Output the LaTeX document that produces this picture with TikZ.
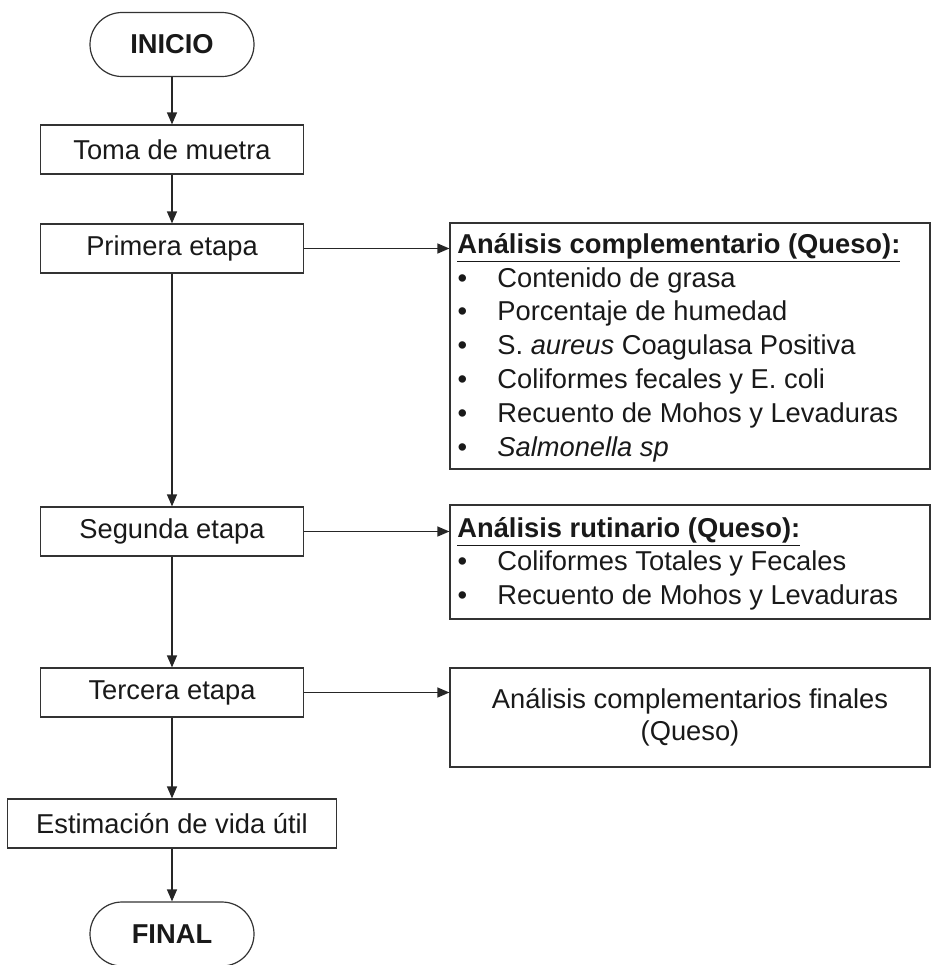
\documentclass[tikz,border=0pt]{standalone}
\usepackage{fontspec}
\setmainfont{Liberation Sans}
\usetikzlibrary{arrows.meta}
\newcommand{\fsz}{\fontsize{13.65pt}{16pt}\selectfont}
\newcommand{\itm}[1]{\makebox[10pt][c]{\textbullet}\hspace*{12.5pt}#1}
\begin{document}
\begin{tikzpicture}[x=0.5pt,y=-0.5pt,
  every node/.style={font=\fsz, text=black!90},
  stepbox/.style={draw=black!80, line width=0.6pt, rectangle, inner sep=0pt, minimum width=131.5pt, minimum height=24.5pt},
  term/.style={draw=black!80, line width=0.6pt, rectangle, rounded corners=16pt, inner sep=0pt, minimum width=82pt, minimum height=32pt, font=\fsz\bfseries},
  sidebox/.style={draw=black!80, line width=0.6pt, rectangle, inner sep=0pt, minimum width=240pt},
  txt/.style={anchor=base west, inner sep=0pt},
  arr/.style={draw=black!85, line width=0.6pt, -{Triangle[length=6pt,width=5pt]}}]
\useasboundingbox (0,0) rectangle (931,965);

% main column
\node[term] (inicio) at (172,44.5) {INICIO};
\node[stepbox] (toma) at (172,149.5) {Toma de muetra};
\node[stepbox] (primera) at (172,248.5) {Primera etapa};
\node[stepbox] (segunda) at (172,531.5) {Segunda etapa};
\node[stepbox] (tercera) at (172,692.5) {Tercera etapa};
\node[stepbox, minimum width=164.5pt] (estim) at (172,823.5) {Estimación de vida útil};
\node[term] (final) at (172,934) {FINAL};

% side boxes
\node[sidebox, minimum height=123pt] (b1) at (690,346) {};
\node[sidebox, minimum height=57pt] (b2) at (690,562) {};
\node[sidebox, minimum height=49.5pt, align=center] (b3) at (690,717.5) {Análisis complementarios finales\\(Queso)};

% texts of box 1
\node[txt] (h1) at (457,253) {\textbf{\underline{Análisis complementario (Queso):}}};
\node[txt] (i11) at (452,287) {\itm{Contenido de grasa}};
\node[txt] (i12) at (452,320.8) {\itm{Porcentaje de humedad}};
\node[txt] (i13) at (452,354.6) {\itm{S. \textit{aureus} Coagulasa Positiva}};
\node[txt] (i14) at (452,388.4) {\itm{Coliformes fecales y E. coli}};
\node[txt] (i15) at (452,422.2) {\itm{Recuento de Mohos y Levaduras}};
\node[txt] (i16) at (452,456) {\itm{\textit{Salmonella sp}}};

% texts of box 2
\node[txt] (h2) at (457,537) {\textbf{\underline{Análisis rutinario (Queso):}}};
\node[txt] (i21) at (452,570.5) {\itm{Coliformes Totales y Fecales}};
\node[txt] (i22) at (452,604) {\itm{Recuento de Mohos y Levaduras}};

% connectors
\draw[arr] (inicio) -- (toma);
\draw[arr] (toma) -- (primera);
\draw[arr] (primera) -- (segunda);
\draw[arr] (segunda) -- (tercera);
\draw[arr] (tercera) -- (estim);
\draw[arr] (estim) -- (final);
\draw[arr] (primera.east) -- (primera.east -| b1.west);
\draw[arr] (segunda.east) -- (segunda.east -| b2.west);
\draw[arr] (tercera.east) -- (tercera.east -| b3.west);
\end{tikzpicture}
\end{document}
